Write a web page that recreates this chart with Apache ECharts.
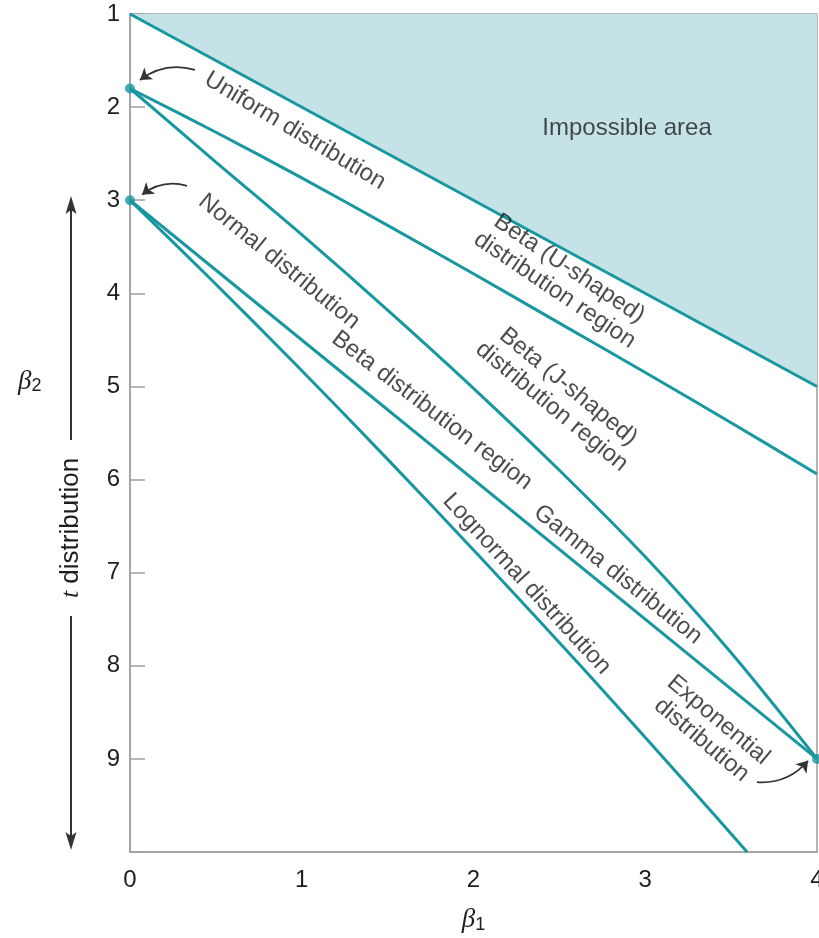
<!DOCTYPE html>
<html>
<head>
<meta charset="utf-8">
<script src="https://cdn.jsdelivr.net/npm/echarts@6/dist/echarts.min.js"></script>
<style>
  html, body { margin: 0; padding: 0; background: #ffffff; }
  #chart { width: 819px; height: 938px; }
</style>
</head>
<body>
<div id="chart"></div>
<script>
// Pearson (beta1, beta2) plane: curves bounding each family of distributions.
const xTicks = [0, 1, 2, 3, 4];
const yTicks = [1, 2, 3, 4, 5, 6, 7, 8, 9];

// boundary of the impossible area (beta2 = beta1 + 1)
const impossibleEdge = [[0, 1], [4, 5]];
// boundary between U-shaped and J-shaped beta regions
const betaUShapedEdge = [[0, 1.8], [0.5, 2.27], [1, 2.76], [1.5, 3.27], [2, 3.79], [2.5, 4.32], [3, 4.85], [3.5, 5.39], [4, 5.94]];
// boundary between J-shaped beta region and the rest of the beta region
const betaJShapedEdge = [[0, 1.8], [0.5, 2.59], [1, 3.37], [1.5, 4.18], [2, 5.02], [2.5, 5.9], [3, 6.83], [3.5, 7.86], [4, 9]];
// gamma distribution line
const gammaLine = [[0, 3], [4, 9]];
// lognormal distribution curve
const lognormalLine = [[0, 3], [0.465, 3.838], [0.961, 4.756], [1.488, 5.759], [2.048, 6.85], [2.641, 8.035], [3.267, 9.32], [3.593, 10]];
// uniform, normal and exponential distributions
const namedPoints = [[0, 1.8], [0, 3], [4, 9]];

// region / curve captions
const captionTexts = [
  'Impossible area',
  'Uniform distribution',
  'Normal distribution',
  'Beta (U-shaped)\ndistribution region',
  'Beta (J-shaped)\ndistribution region',
  'Beta distribution region',
  'Gamma distribution',
  'Lognormal distribution',
  'Exponential\ndistribution'
];
const captionAnchors = [[2.894, 2.233], [0.961, 2.255], [0.868, 3.66], [2.515, 3.85], [2.504, 5.11], [1.758, 5.26], [2.84, 7.02], [2.31, 7.12], [3.377, 8.69]];
const captionAngles = [0, -31, -39, -34, -39.5, -37.4, -38.7, -47.4, -40];

// pointer arrows from captions to the named points
const pointerArrows = [
  [[0.378, 1.60], [0.058, 1.708]],
  [[0.332, 2.845], [0.07, 2.94]],
  [[3.65, 9.25], [3.948, 9.02]]
];

const TEAL = '#1797a0';
const FILL = '#c5e3e6';
const INK = '#1e1e1e';
const FONT = '"Liberation Sans", Arial, Helvetica, sans-serif';
const SERIF = '"Liberation Serif", "DejaVu Serif", serif';

const chart = echarts.init(document.getElementById('chart'), null, { renderer: 'canvas' });

function curveSeries(data, withArea) {
  const s = {
    type: 'line',
    data: data,
    showSymbol: false,
    smooth: data.length > 2 ? 0.3 : false,
    lineStyle: { color: TEAL, width: 3 },
    z: 3,
    silent: true
  };
  if (withArea) {
    s.areaStyle = { color: FILL, opacity: 1, origin: 'start' };
  }
  return s;
}

const option = {
  animation: false,
  backgroundColor: '#ffffff',
  grid: {
    left: 130, right: 2, top: 14, bottom: 86,
    containLabel: false,
    outerBoundsMode: 'none',
    show: true, borderColor: '#a0a0a0', borderWidth: 1.5, backgroundColor: 'transparent'
  },
  xAxis: {
    type: 'value', min: 0, max: 4, interval: 1,
    axisLine: { show: true, lineStyle: { color: '#a0a0a0', width: 1.5 } },
    axisTick: { show: false },
    splitLine: { show: false },
    axisLabel: {
      margin: 16, fontSize: 24, color: INK, fontFamily: FONT,
      formatter: function (v) { return xTicks.indexOf(v) >= 0 ? String(v) : ''; }
    },
    name: '{b|β}{s|1}',
    nameLocation: 'middle',
    nameGap: 54,
    nameTextStyle: {
      rich: {
        b: { fontSize: 27, fontStyle: 'italic', fontFamily: SERIF, color: INK },
        s: { fontSize: 18, fontFamily: FONT, color: INK, padding: [10, 0, 0, 0] }
      }
    }
  },
  yAxis: {
    type: 'value', min: 1, max: 10, interval: 1, inverse: true,
    axisLine: { show: true, lineStyle: { color: '#a0a0a0', width: 1.5 } },
    axisTick: { show: true, inside: true, length: 15, lineStyle: { color: '#a0a0a0', width: 1.5 } },
    splitLine: { show: false },
    axisLabel: {
      margin: 10, fontSize: 24, color: INK, fontFamily: FONT,
      formatter: function (v) { return yTicks.indexOf(v) >= 0 ? String(v) : ''; }
    }
  },
  graphic: [
    // beta2 axis name
    {
      type: 'text', left: 18, top: 368, z: 10,
      style: {
        text: '{b|β}{s|2}',
        rich: {
          b: { fontSize: 27, fontStyle: 'italic', fontFamily: SERIF, fill: INK },
          s: { fontSize: 18, fontFamily: FONT, fill: INK, padding: [10, 0, 0, 0] }
        }
      }
    },
    // t distribution double arrow
    { type: 'line', shape: { x1: 71, y1: 208, x2: 71, y2: 440 }, style: { stroke: '#333', lineWidth: 2 } },
    { type: 'polygon', shape: { points: [[71, 196], [65.5, 214], [71, 210], [76.5, 214]] }, style: { fill: '#333' } },
    { type: 'line', shape: { x1: 71, y1: 616, x2: 71, y2: 838 }, style: { stroke: '#333', lineWidth: 2 } },
    { type: 'polygon', shape: { points: [[71, 850], [65.5, 832], [71, 836], [76.5, 832]] }, style: { fill: '#333' } },
    {
      type: 'text', x: 71, y: 528, rotation: Math.PI / 2, z: 10,
      style: {
        text: '{i|t} distribution',
        align: 'center', verticalAlign: 'middle',
        fontSize: 26, fontFamily: FONT, fill: INK,
        rich: { i: { fontSize: 26, fontStyle: 'italic', fontFamily: SERIF, fill: INK } }
      }
    }
  ],
  series: [
    curveSeries(impossibleEdge, true),
    curveSeries(betaUShapedEdge, false),
    curveSeries(betaJShapedEdge, false),
    curveSeries(gammaLine, false),
    curveSeries(lognormalLine, false),
    {
      type: 'scatter',
      data: namedPoints,
      symbol: 'circle',
      symbolSize: 10,
      itemStyle: { color: TEAL },
      clip: false,
      z: 5,
      silent: true
    },
    {
      type: 'lines',
      coordinateSystem: 'cartesian2d',
      symbol: ['none', 'arrow'],
      symbolSize: [0, 11],
      lineStyle: { color: '#333', width: 1.8, curveness: -0.25, opacity: 1 },
      data: pointerArrows.map(function (c) { return { coords: c }; }),
      z: 6,
      silent: true
    },
    {
      type: 'scatter',
      symbolSize: 0,
      z: 8,
      silent: true,
      data: captionAnchors.map(function (p, i) {
        return {
          value: p,
          label: {
            show: true,
            position: 'inside',
            formatter: captionTexts[i],
            rotate: captionAngles[i],
            align: 'center',
            verticalAlign: 'middle',
            fontSize: 24,
            lineHeight: 26,
            fontFamily: FONT,
            color: INK
          }
        };
      })
    }
  ]
};

chart.setOption(option);
</script>
</body>
</html>
